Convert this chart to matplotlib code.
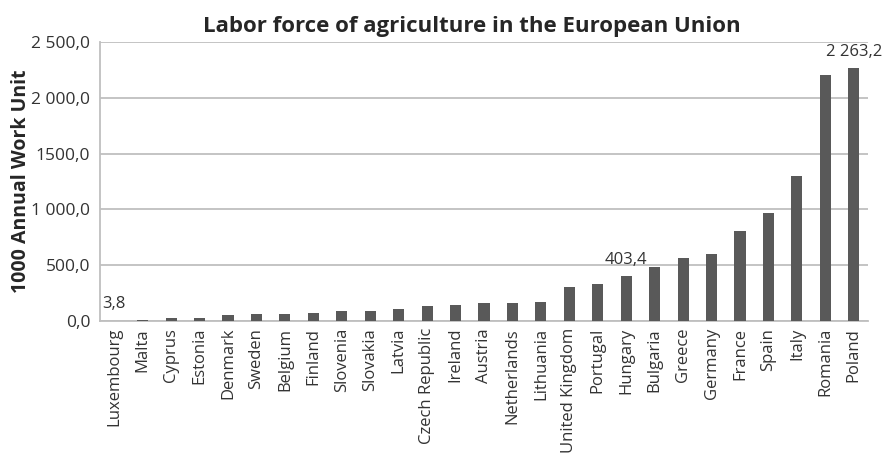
import matplotlib
matplotlib.use("Agg")
import matplotlib.pyplot as plt
import numpy as np

countries = ["Luxembourg", "Malta", "Cyprus", "Estonia", "Denmark", "Sweden",
             "Belgium", "Finland", "Slovenia", "Slovakia", "Latvia",
             "Czech Republic", "Ireland", "Austria", "Netherlands", "Lithuania",
             "United Kingdom", "Portugal", "Hungary", "Bulgaria", "Greece",
             "Germany", "France", "Spain", "Italy", "Romania", "Poland"]
awu = [3.8, 4.5, 27, 27, 54, 62, 62, 72, 86, 86, 104,
       137, 146, 159, 159, 173,
       302, 335, 403.4, 487, 562,
       601, 804, 966, 1303, 2200, 2263.2]
labelled = {"Luxembourg": "3,8", "Hungary": "403,4", "Poland": "2 263,2"}
y_ticks = [0, 500, 1000, 1500, 2000, 2500]
y_tick_labels = ["0,0", "500,0", "1 000,0", "1500,0", "2 000,0", "2 500,0"]

plt.rcParams["font.family"] = ["Open Sans", "DejaVu Sans"]

fig = plt.figure(figsize=(8.86, 4.57), dpi=100)
ax = fig.add_axes([100 / 886, 1 - 321 / 457, 768 / 886, 279 / 457])

x = np.arange(len(countries))
ax.bar(x, awu, width=0.39, color="#595959", zorder=3)

ax.set_xlim(-0.5, len(countries) - 0.5)
ax.set_ylim(0, 2500)
ax.set_yticks(y_ticks)
ax.set_yticklabels(y_tick_labels)
ax.set_xticks(x)
ax.set_xticklabels(countries, rotation=90)
ax.tick_params(axis="both", length=0, labelsize=12, colors="#333333")
ax.tick_params(axis="y", labelsize=12.5, pad=7)
ax.tick_params(axis="x", pad=5)

ax.grid(axis="y", color="#BFBFBF", linewidth=1.3, zorder=0)
for side in ("top", "right"):
    ax.spines[side].set_visible(False)
for side in ("left", "bottom"):
    ax.spines[side].set_color("#BFBFBF")
    ax.spines[side].set_linewidth(1.3)

for i, name in enumerate(countries):
    if name in labelled:
        ax.annotate(labelled[name], (x[i], awu[i]), xytext=(0, 6),
                    textcoords="offset points", ha="center", va="bottom",
                    fontsize=12, color="#333333", annotation_clip=False)

ax.set_ylabel("1000 Annual Work Unit", fontsize=14, fontweight="bold",
              color="#262626", labelpad=0)
fig.text(0.532, 1 - 32 / 457, "Labor force of agriculture in the European Union",
         ha="center", va="baseline", fontsize=16, fontweight="bold",
         color="#262626")

fig.savefig("out.png", dpi=100)
